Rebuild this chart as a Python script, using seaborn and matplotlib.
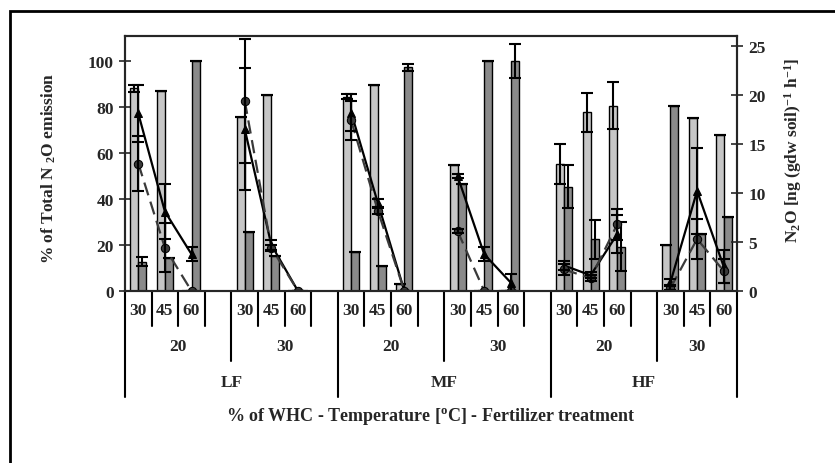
import pandas as pd
import seaborn as sns
import matplotlib
matplotlib.use("Agg")
import matplotlib.pyplot as plt
from matplotlib import transforms
from matplotlib.patches import Rectangle

fert = ["LF", "MF", "HF"]
temps = ["20", "30"]
whc = ["30", "45", "60"]

# bars, left axis: % of total N2O emission (light / dark)
light_pct = [88.0, 86.9, 0, 75.5, 85.3, 0, 84.5, 89.3, 3.0, 54.6, 0, 0, 55.2, 77.7, 80.6, 19.8, 75.1, 68.0]
light_err = [1.7, 0, 0, 0, 0, 0, 1.2, 0, 0, 0, 0, 0, 8.7, 8.5, 10.3, 0, 0, 0]
dark_pct = [12.8, 14.5, 100, 25.6, 15.2, 0, 17.0, 10.9, 97.3, 46.3, 100, 100, 45.3, 22.5, 19.3, 80.3, 24.6, 32.0]
dark_err = [2.0, 0, 0, 0, 0, 0, 0, 0, 1.5, 0, 0, 7.5, 9.4, 8.4, 10.5, 0, 0, 0]

# lines, right axis: N2O flux
tri_flux = [18.1, 8.1, 3.75, 16.5, 4.7, 0, 18.2, 9.0, 0, 11.7, 3.75, 0.85, 2.6, 1.6, 5.8, 0.9, 10.2, 2.5]
tri_err = [2.9, 2.8, 0.7, 6.2, 0.5, 0, 1.9, 0.4, 0, 0.2, 0.7, 0.85, 0.5, 0.3, 1.9, 0.3, 4.4, 1.7]
circ_flux = [13.0, 4.4, 0, 19.4, 4.4, 0, 17.4, 8.2, 0, 6.1, 0, 0, 2.2, 1.3, 6.8, 0.3, 5.3, 2.05]
circ_err = [2.8, 2.5, 0, 6.3, 0.3, 0, 2.0, 0.3, 0, 0.2, 0, 0, 0.6, 0.3, 1.6, 0.2, 2.05, 1.2]

LIGHT, DARK = "#c6c6c6", "#8a8a8a"
W, H = 835, 464
FS = 12.5


def fy(py):
    return 1 - py / H


# slot layout: 4 slots per temperature (last one empty), 8 per fertilizer
pos, grp = [], []
for i in range(len(fert)):
    for j in range(len(temps)):
        for k in range(len(whc)):
            pos.append(i * 8 + j * 4 + k + 0.5)
            grp.append(i * 2 + j)

bars = pd.DataFrame({
    "pos": pos * 2,
    "pct": light_pct + dark_pct,
    "kind": ["light"] * len(pos) + ["dark"] * len(pos),
})
tri = pd.DataFrame({"pos": pos, "flux": tri_flux, "grp": grp})
circ = pd.DataFrame({"pos": pos, "flux": circ_flux, "grp": grp})

sns.set_style("white")
plt.rcParams["font.family"] = ["Liberation Serif", "DejaVu Serif"]
plt.rcParams["font.weight"] = "bold"
plt.rcParams["mathtext.default"] = "regular"

fig = plt.figure(figsize=(W / 100, H / 100), dpi=100)
ax = fig.add_axes([125 / W, fy(292), (737 - 125) / W, (292 - 37) / H])

sns.barplot(data=bars, x="pos", y="pct", hue="kind", hue_order=["light", "dark"],
            palette={"light": LIGHT, "dark": DARK}, native_scale=True, width=0.6,
            errorbar=None, edgecolor="black", linewidth=1, legend=False, ax=ax)
lx = [p - 0.15 for p in pos]
dx = [p + 0.15 for p in pos]
ax.errorbar(lx, light_pct, yerr=light_err, fmt="none", ecolor="black", elinewidth=1.5, capsize=4, capthick=1.5)
ax.errorbar(dx, dark_pct, yerr=dark_err, fmt="none", ecolor="black", elinewidth=1.5, capsize=4, capthick=1.5)

ax.set_xlim(0, 23)
ax.set_ylim(0, 110.8)
ax.set_yticks(range(0, 101, 20))
ax.set_xticks(range(24))
ax.set_xlabel("")
ax.set_ylabel("")
ax.tick_params(axis="x", direction="inout", length=10, width=1.2, labelbottom=False)
ax.tick_params(axis="y", direction="inout", length=9, width=1.2, labelsize=FS)
for s in ax.spines.values():
    s.set_linewidth(1.5)

ax2 = ax.twinx()
sns.lineplot(data=tri, x="pos", y="flux", units="grp", estimator=None, color="black",
             marker="^", markersize=6, markeredgecolor="black", linewidth=1.6, ax=ax2, legend=False)
sns.lineplot(data=circ, x="pos", y="flux", units="grp", estimator=None, color="#3a3a3a",
             marker="o", markersize=6, markeredgecolor="black", linewidth=1.6,
             linestyle=(0, (6, 3)), ax=ax2, legend=False)
ax2.errorbar(pos, tri_flux, yerr=tri_err, fmt="none", ecolor="black", elinewidth=1.5, capsize=4, capthick=1.5)
ax2.errorbar(pos, circ_flux, yerr=circ_err, fmt="none", ecolor="black", elinewidth=1.5, capsize=4, capthick=1.5)
ax2.set_ylim(0, 26.0)
ax2.set_yticks(range(0, 26, 5))
ax2.set_xlim(0, 23)
ax2.set_xlabel("")
ax2.set_ylabel("")
ax2.tick_params(axis="y", direction="inout", length=9, width=1.2, labelsize=FS)
for s in ax2.spines.values():
    s.set_linewidth(1.5)

# hierarchical category axis below the plot
trans = transforms.blended_transform_factory(ax.transData, fig.transFigure)
for b in range(24):
    if b % 8 == 0 or b == 23:
        end = 398
    elif b % 4 == 0:
        end = 362
    else:
        end = 327
    ax.plot([b, b], [fy(292), fy(end)], color="black", lw=1.5, transform=trans, clip_on=False)

for p in pos:
    ax.text(p, fy(311), whc[int(p) % 4], transform=trans, ha="center", va="center", fontsize=FS)
for i in range(len(fert)):
    for j in range(len(temps)):
        start = i * 8 + j * 4
        stop = min(start + 4, 23)
        ax.text((start + stop) / 2, fy(347), temps[j], transform=trans, ha="center", va="center", fontsize=FS)
    ax.text((i * 8 + min(i * 8 + 8, 23)) / 2, fy(383), fert[i], transform=trans,
            ha="center", va="center", fontsize=FS)

fig.text(431 / W, fy(417), "% of WHC - Temperature [$^{o}$C] - Fertilizer treatment",
         ha="center", va="center", fontsize=13)
fig.text(49 / W, fy(168), "% of Total N $_{2}$O emission", rotation=90,
         ha="center", va="center", fontsize=12.5)
fig.text(793 / W, fy(150), "N$_{2}$O [ng (gdw soil)$^{-1}$ h$^{-1}$]", rotation=90,
         ha="center", va="center", fontsize=12.5)

# outer frame, cut off at right and bottom as in the original
fig.add_artist(Rectangle((10 / W, -0.1), 1.2, fy(12) + 0.1, transform=fig.transFigure,
                         fill=False, lw=2, ec="black"))

fig.savefig("out.png", dpi=100)
